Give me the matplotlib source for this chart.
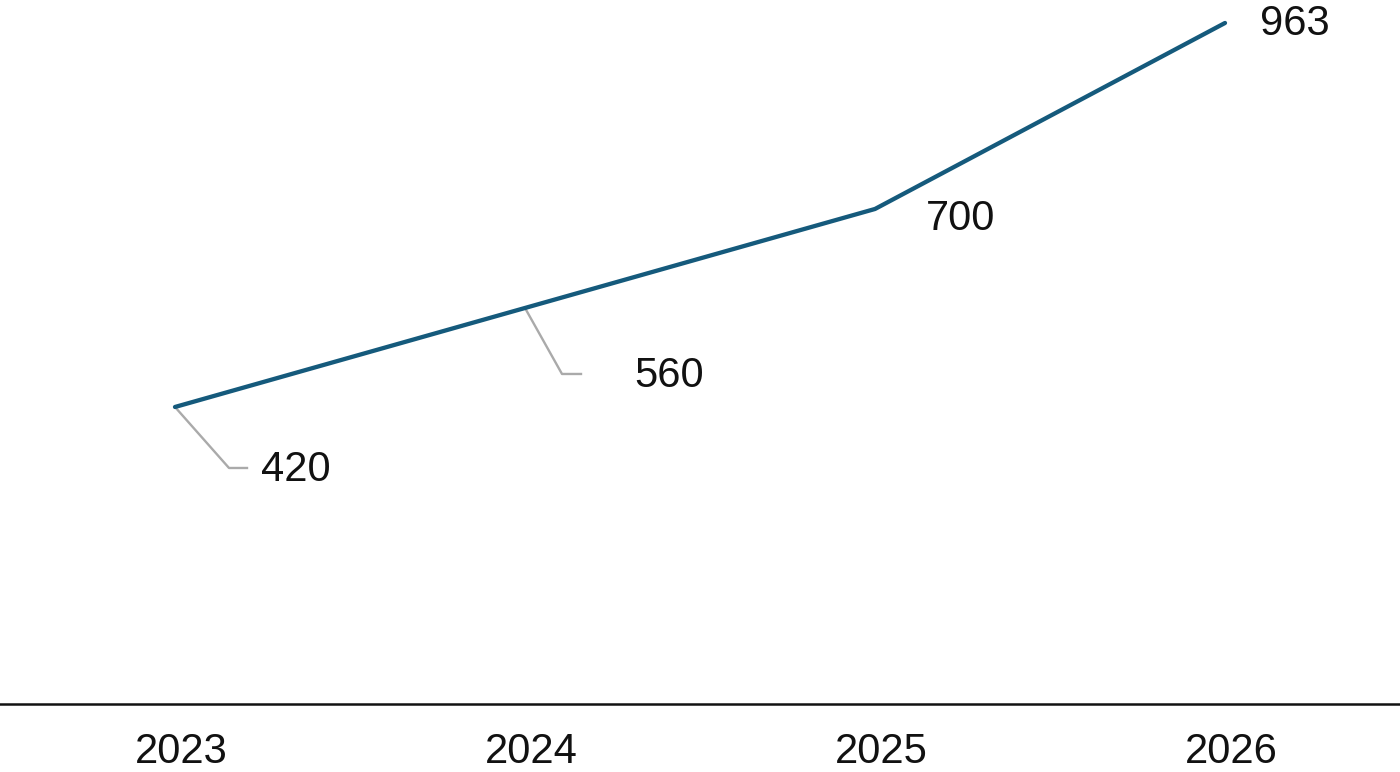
import matplotlib.pyplot as plt
from matplotlib.transforms import IdentityTransform, ScaledTranslation

years = ['2023', '2024', '2025', '2026']
values = [420, 560, 700, 963]

plt.rcParams['font.family'] = ['Liberation Sans', 'DejaVu Sans']

fig = plt.figure(figsize=(14, 7.72), dpi=100)
ax = fig.add_axes([0, 68 / 772, 1, 704 / 772])

x = list(range(len(years)))
ax.plot(x, values, color='#155a7c', lw=3.1, solid_capstyle='round', zorder=3)

ax.set_xlim(-0.5, 3.5)
ax.set_ylim(0, 995.5)
ax.set_xticks(x)
ax.set_xticklabels(years, fontsize=30, color='#111111')
ax.tick_params(axis='x', length=0, pad=20)
# nudge the year labels a little to the right, as in the source
shift = ScaledTranslation(6 / 100, 0, fig.dpi_scale_trans)
for lab in ax.get_xticklabels():
    lab.set_transform(lab.get_transform() + shift)
ax.set_yticks([])
for s in ['top', 'left', 'right']:
    ax.spines[s].set_visible(False)
ax.spines['bottom'].set_linewidth(1.8)
ax.spines['bottom'].set_color('#111111')

# label offsets in pixels: (leader elbow dx, dy, leader end dx, text dx, text dy)
label_offsets = [
    (54, -61, 72, 86, -63),
    (37, -66, 56, 109, -68),
    (None, None, None, 51, -10),
    (None, None, None, 35, -1),
]

for xi, v, off in zip(x, values, label_offsets):
    px, py = ax.transData.transform((xi, v))
    ex, ey, hx, tx, ty = off
    if ex is not None:
        ax.plot([px, px + ex, px + hx], [py, py + ey, py + ey],
                transform=IdentityTransform(), color='#aaaaaa', lw=1.7,
                zorder=2, clip_on=False)
    ax.text(px + tx, py + ty, str(v), transform=IdentityTransform(),
            fontsize=30, color='#111111', ha='left', va='center')

fig.savefig('out.png', dpi=100)
